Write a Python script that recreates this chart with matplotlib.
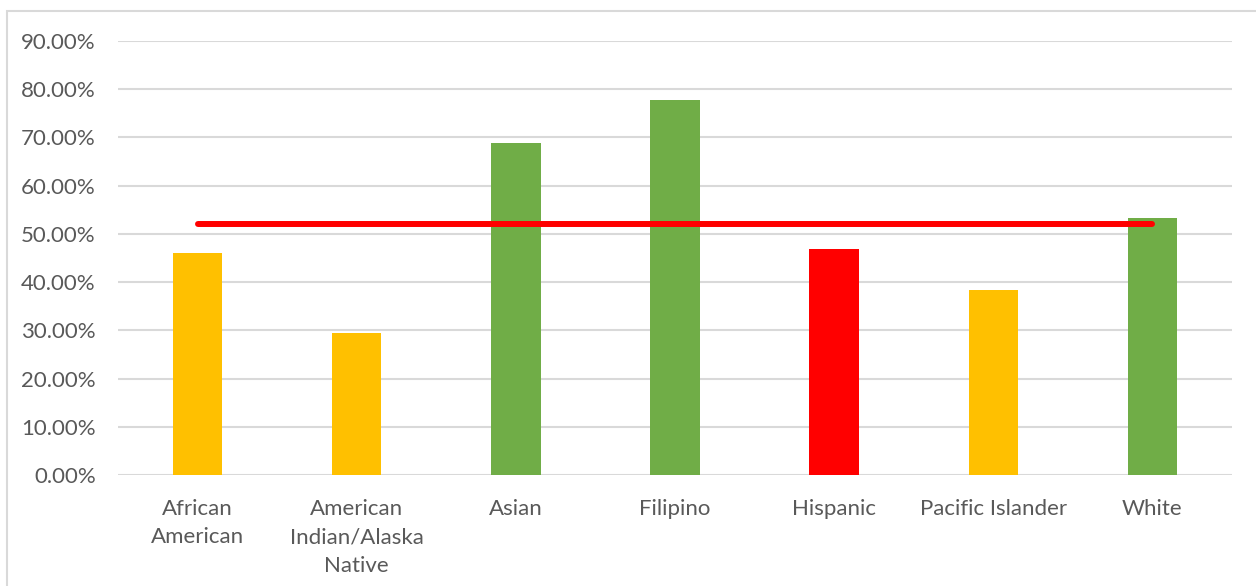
import matplotlib.pyplot as plt
from matplotlib.patches import Rectangle
from matplotlib.ticker import FuncFormatter

# Chart data
groups = ["African\nAmerican", "American\nIndian/Alaska\nNative", "Asian", "Filipino",
          "Hispanic", "Pacific Islander", "White"]
rates = [0.460, 0.294, 0.688, 0.778, 0.469, 0.384, 0.533]
bar_colors = ["#FFC000", "#FFC000", "#70AD47", "#70AD47", "#FF0000", "#FFC000", "#70AD47"]
overall = [0.52] * len(groups)

plt.rcParams['font.family'] = ['Lato', 'DejaVu Sans']

W, H = 1256, 586
fig = plt.figure(figsize=(W / 100, H / 100), dpi=100)
fig.patch.set_facecolor("white")

# outer chart border (only left/top visible in the crop)
fig.patches.append(Rectangle((7 / W, -0.1), 1.2, 1 - 11 / H + 0.1, transform=fig.transFigure,
                             fill=False, edgecolor="#d9d9d9", linewidth=1.5))

ax = fig.add_axes([118 / W, 1 - 475 / H, (1232 - 118) / W, (475 - 41) / H])
x = list(range(len(groups)))

ax.bar(x, rates, width=0.31, color=bar_colors, zorder=2)
ax.plot(x, overall, color="#FF0000", linewidth=4.3, solid_capstyle="round", zorder=3)

ax.set_xlim(-0.5, len(groups) - 0.5)
ax.set_ylim(0, 0.9)
ax.set_yticks([i / 10 for i in range(10)])
ax.yaxis.set_major_formatter(FuncFormatter(lambda v, p: f"{v * 100:.2f}%"))
ax.set_xticks(x)
ax.set_xticklabels(groups, linespacing=1.55)

ax.grid(axis="y", color="#d9d9d9", linewidth=1.5, zorder=0)
ax.set_axisbelow(True)
for s in ["top", "right", "left", "bottom"]:
    ax.spines[s].set_visible(False)
ax.tick_params(axis="both", length=0, labelcolor="#595959")
ax.tick_params(axis="x", labelsize=16, pad=17)
ax.tick_params(axis="y", labelsize=16, pad=16)

fig.savefig("out.png", dpi=100)
